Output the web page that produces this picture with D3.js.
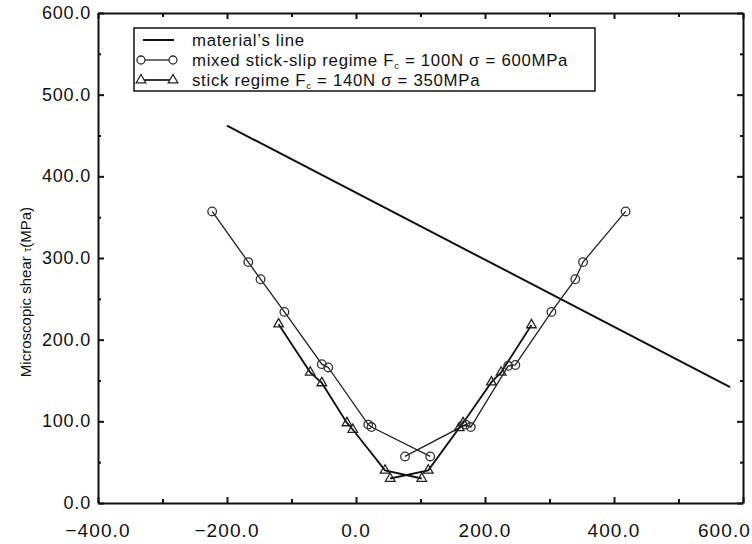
<!DOCTYPE html>
<html>
<head>
<meta charset="utf-8">
<script src="https://cdn.jsdelivr.net/npm/d3@7/dist/d3.min.js"></script>
<style>
  html, body { margin: 0; padding: 0; background: #fff; }
  svg { display: block; }
  text { font-family: "Liberation Sans", Arial, sans-serif; fill: #111; }
</style>
</head>
<body>
<svg id="chart" width="752" height="544"></svg>
<script>
// ---- data ----
const xTicks = [-400, -300, -200, -100, 0, 100, 200, 300, 400, 500, 600];
const xTickLabels = [-400, -200, 0, 200, 400, 600];
const yTicks = [0, 50, 100, 150, 200, 250, 300, 350, 400, 450, 500, 550, 600];
const yTickLabels = [0, 100, 200, 300, 400, 500, 600];

const materialX = [-200, 580];
const materialY = [462, 142];

// mixed stick-slip regime (two branches)
const mixedLeftX = [-223, -167, -148, -111, -53, -43, 19, 24, 115];
const mixedLeftY = [357, 295, 274, 234, 170, 166, 96, 93, 57];
const mixedRightX = [418, 352, 340, 303, 247, 236, 178, 170, 76];
const mixedRightY = [357, 295, 274, 234, 169, 168, 93, 96, 57];

// stick regime (two branches)
const stickLeftX = [-120, -71, -53, -14, -5, 45, 102];
const stickLeftY = [219, 160, 147, 98, 90, 40, 30];
const stickRightX = [272, 225, 210, 166, 160, 112, 53];
const stickRightY = [218, 160, 148, 98, 92, 40, 30];

const legendLabels = ["material\u2019s line", "mixed stick-slip regime F", "stick regime F"];
const legendTails = ["", " = 100N \u03c3 = 600MPa", " = 140N \u03c3 = 350MPa"];

// ---- chart ----
const svg = d3.select("#chart");
const x = d3.scaleLinear().domain([-400, 600]).range([98, 743]);
const y = d3.scaleLinear().domain([0, 600]).range([503, 13]);

const zip = (a, b) => a.map((v, i) => [v, b[i]]);
const line = d3.line().x(d => x(d[0])).y(d => y(d[1]));

const fmt = d3.format(".1f");
const tickLen = v => (v % 200 === 0 ? 6 : 4);
const ytickLen = v => (v % 100 === 0 ? 6 : 3);

const gB = svg.append("g").attr("transform", `translate(0,${y(0)})`)
  .call(d3.axisBottom(x).tickValues(xTicks).tickSize(0).tickFormat(""));
const gT = svg.append("g").attr("transform", `translate(0,${y(600)})`)
  .call(d3.axisTop(x).tickValues(xTicks).tickSize(0).tickFormat(""));
const gL = svg.append("g").attr("transform", `translate(${x(-400)},0)`)
  .call(d3.axisLeft(y).tickValues(yTicks).tickSize(0).tickFormat(""));
const gR = svg.append("g").attr("transform", `translate(${x(600)},0)`)
  .call(d3.axisRight(y).tickValues(yTicks).tickSize(0).tickFormat(""));
[gB, gT, gL, gR].forEach(g => {
  g.select(".domain").attr("stroke", "#111").attr("stroke-width", 2);
  g.selectAll(".tick line").remove();
  g.selectAll(".tick text").remove();
});
gB.selectAll(".tick").append("line").attr("y2", d => -tickLen(d)).attr("stroke", "#111").attr("stroke-width", 2);
gT.selectAll(".tick").append("line").attr("y2", d => tickLen(d)).attr("stroke", "#111").attr("stroke-width", 2);
gL.selectAll(".tick").append("line").attr("x2", d => ytickLen(d)).attr("stroke", "#111").attr("stroke-width", 2);
gR.selectAll(".tick").append("line").attr("x2", d => -ytickLen(d)).attr("stroke", "#111").attr("stroke-width", 2);

// tick labels
svg.append("g").selectAll("text").data(xTickLabels).join("text")
  .attr("x", (d, i) => i === xTickLabels.length - 1 ? 751 : x(d))
  .attr("y", 537)
  .attr("text-anchor", (d, i) => i === xTickLabels.length - 1 ? "end" : "middle")
  .attr("font-size", 19).attr("letter-spacing", 1.1)
  .text(d => fmt(d));
svg.append("g").selectAll("text").data(yTickLabels).join("text")
  .attr("x", 91).attr("y", d => y(d) + 6)
  .attr("text-anchor", "end")
  .attr("font-size", 18).attr("letter-spacing", 0.8)
  .text(d => fmt(d));

// y axis title
const yt = svg.append("text")
  .attr("transform", "translate(31,292) rotate(-90)")
  .attr("text-anchor", "middle").attr("font-size", 15);
yt.append("tspan").text("Microscopic shear ");
yt.append("tspan").attr("font-size", 11).text("\u03c4");
yt.append("tspan").text("(MPa)");

// material line
svg.append("path").datum(zip(materialX, materialY))
  .attr("d", line).attr("fill", "none").attr("stroke", "#111").attr("stroke-width", 2);

// mixed series
[zip(mixedLeftX, mixedLeftY), zip(mixedRightX, mixedRightY)].forEach(pts => {
  svg.append("path").datum(pts).attr("d", line)
    .attr("fill", "none").attr("stroke", "#222").attr("stroke-width", 1.3);
});
// stick series
[zip(stickLeftX, stickLeftY), zip(stickRightX, stickRightY)].forEach(pts => {
  svg.append("path").datum(pts).attr("d", line)
    .attr("fill", "none").attr("stroke", "#111").attr("stroke-width", 1.8);
});

const tri = d3.symbol().type(d3.symbolTriangle).size(40);
const stickPts = zip(stickLeftX, stickLeftY).concat(zip(stickRightX, stickRightY));
svg.append("g").selectAll("path").data(stickPts).join("path")
  .attr("transform", d => `translate(${x(d[0])},${y(d[1])})`)
  .attr("d", tri).attr("fill", "none").attr("stroke", "#222").attr("stroke-width", 1.3);

const mixedPts = zip(mixedLeftX, mixedLeftY).concat(zip(mixedRightX, mixedRightY));
svg.append("g").selectAll("circle").data(mixedPts).join("circle")
  .attr("cx", d => x(d[0])).attr("cy", d => y(d[1])).attr("r", 4.3)
  .attr("fill", "none").attr("stroke", "#333").attr("stroke-width", 1.3);

// legend
const lg = svg.append("g");
lg.append("rect").attr("x", 134).attr("y", 28).attr("width", 461).attr("height", 63)
  .attr("fill", "#fff").attr("stroke", "#111").attr("stroke-width", 1.5);
const rows = [40, 60, 80];
lg.append("line").attr("x1", 143).attr("x2", 174).attr("y1", rows[0]).attr("y2", rows[0])
  .attr("stroke", "#111").attr("stroke-width", 2);
[1, 2].forEach(i => {
  lg.append("line").attr("x1", 141).attr("x2", 173).attr("y1", rows[i]).attr("y2", rows[i])
    .attr("stroke", "#222").attr("stroke-width", i === 1 ? 1.3 : 1.8);
  [141, 173].forEach(cx => {
    if (i === 1) {
      lg.append("circle").attr("cx", cx).attr("cy", rows[i]).attr("r", 4)
        .attr("fill", "#fff").attr("stroke", "#333").attr("stroke-width", 1.3);
    } else {
      lg.append("path").attr("transform", `translate(${cx},${rows[i]})`).attr("d", tri)
        .attr("fill", "#fff").attr("stroke", "#222").attr("stroke-width", 1.3);
    }
  });
});
legendLabels.forEach((lab, i) => {
  const t = lg.append("text").attr("x", 192).attr("y", rows[i] + 6)
    .attr("font-size", 16.8).attr("letter-spacing", 0.7);
  t.append("tspan").text(lab);
  if (legendTails[i]) {
    t.append("tspan").attr("font-size", 9.5).attr("dy", 3).text("c");
    t.append("tspan").attr("dy", -3).text(legendTails[i]);
  }
});
</script>
</body>
</html>
